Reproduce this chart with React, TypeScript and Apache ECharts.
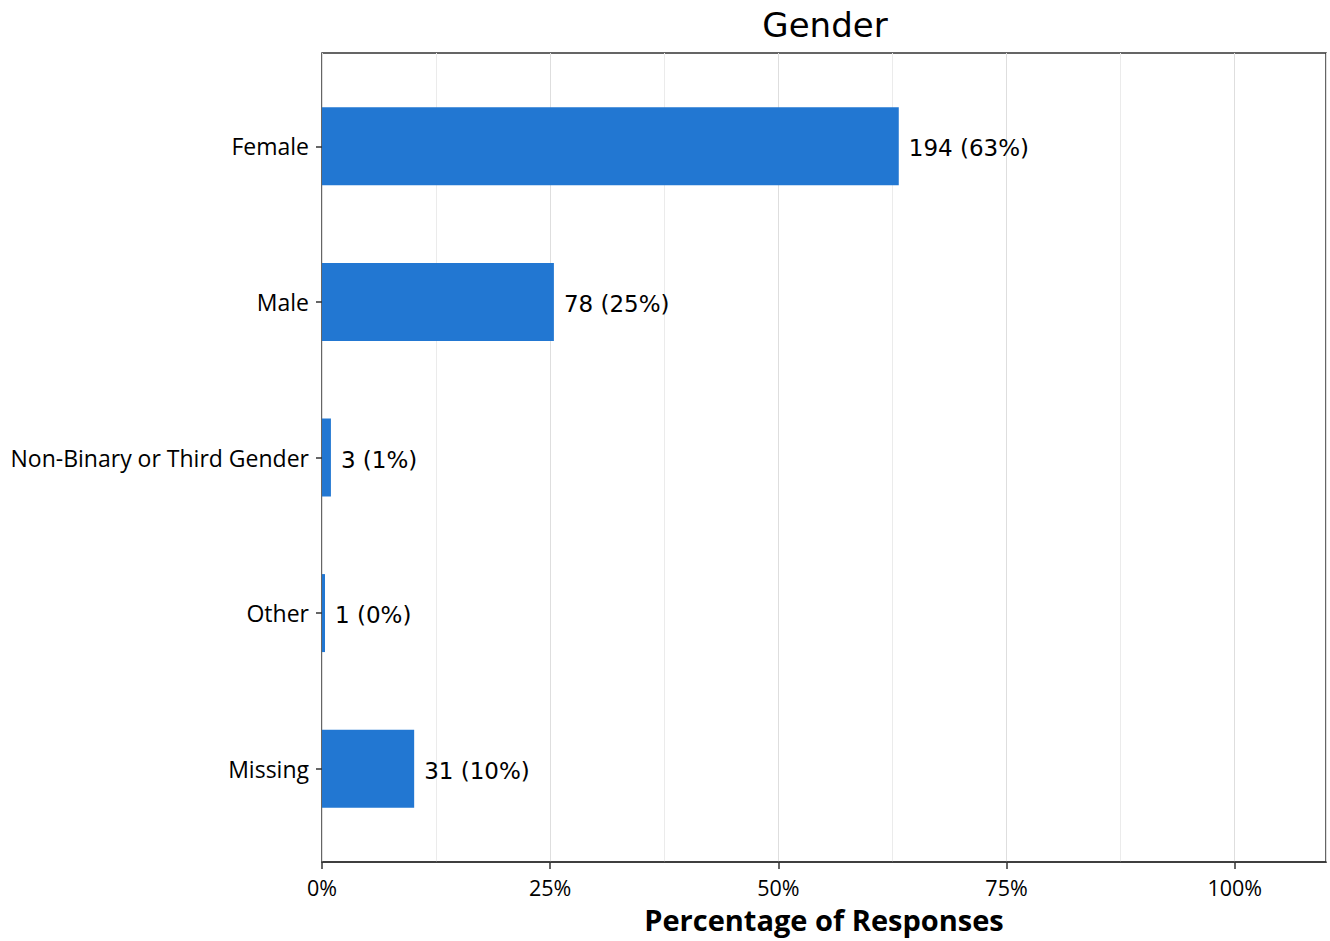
import React, { useEffect, useRef } from "react";
import * as echarts from "echarts";

const categories = ["Female", "Male", "Non-Binary or Third Gender", "Other", "Missing"];
const counts = [194, 78, 3, 1, 31];
const xTickValues = [0, 25, 50, 75, 100];

const total = counts.reduce((a, b) => a + b, 0);
const percents = counts.map((c) => (c / total) * 100);

export default function App() {
  const ref = useRef<HTMLDivElement>(null);
  useEffect(() => {
    document.body.style.margin = "0";
    const chart = echarts.init(ref.current!, null, { renderer: "svg" });
    const plotLeft = 322;
    const plotRight = 4;
    const plotTop = 53;
    const plotBottom = 79;
    const plotH = 941 - plotTop - plotBottom;
    const pad = (plotH / 5.2) * 0.6 - (plotH / 5.2) * 0.5;
    chart.setOption({
      animation: false,
      title: {
        text: "Gender",
        left: 820,
        top: 3,
        textAlign: "center",
        textStyle: { fontFamily: "DejaVu Sans", fontSize: 34, fontWeight: "normal", color: "#000" },
      },
      grid: [
        { left: plotLeft, right: plotRight, top: plotTop, bottom: plotBottom, show: true, borderColor: "#333", borderWidth: 1.5, backgroundColor: "transparent" },
        { left: plotLeft, right: plotRight, top: plotTop + pad, bottom: plotBottom + pad },
      ],
      xAxis: [
        {
          gridIndex: 0,
          type: "value",
          min: 0,
          max: 110,
          interval: 25,
          splitNumber: 2,
          axisLine: { show: true, lineStyle: { color: "#333", width: 1.5 } },
          axisTick: { show: true, length: 7, lineStyle: { color: "#333", width: 1.5 } },
          axisLabel: {
            fontFamily: "Open Sans",
            fontSize: 21.5,
            color: "#000",
            margin: 14,
            showMaxLabel: false,
            formatter: (v: number) => (xTickValues.includes(v) ? v + "%" : ""),
          },
          splitLine: { show: true, lineStyle: { color: "#dedede", width: 1 } },
          minorSplitLine: { show: true, lineStyle: { color: "#ebebeb", width: 1 } },
          minorTick: { show: false, splitNumber: 2 },
          name: "Percentage of Responses",
          nameLocation: "middle",
          nameGap: 43,
          nameTextStyle: { fontFamily: "Open Sans", fontSize: 29, fontWeight: "bold", color: "#000" },
        },
        { gridIndex: 1, type: "value", min: 0, max: 110, show: false },
      ],
      yAxis: [
        { gridIndex: 0, type: "value", show: false, min: 0, max: 1 },
        {
          gridIndex: 1,
          type: "category",
          inverse: true,
          data: categories,
          axisLine: { show: false },
          axisTick: { show: true, length: 6, alignWithLabel: true, lineStyle: { color: "#333", width: 1.5 } },
          axisLabel: { fontFamily: "Open Sans", fontSize: 23, color: "#000", margin: 13 },
          splitLine: { show: false },
        },
      ],
      series: [
        {
          type: "bar",
          xAxisIndex: 1,
          yAxisIndex: 1,
          data: percents,
          barWidth: 78,
          itemStyle: { color: "#2277d2" },
          label: {
            show: true,
            position: "right",
            distance: 10,
            offset: [0, 2],
            fontFamily: "DejaVu Sans",
            fontSize: 23,
            color: "#000",
            formatter: (p: any) => `${counts[p.dataIndex]} (${Math.round(percents[p.dataIndex])}%)`,
          },
        },
      ],
    });
    return () => chart.dispose();
  }, []);
  return <div ref={ref} style={{ width: 1330, height: 941 }} />;
}
